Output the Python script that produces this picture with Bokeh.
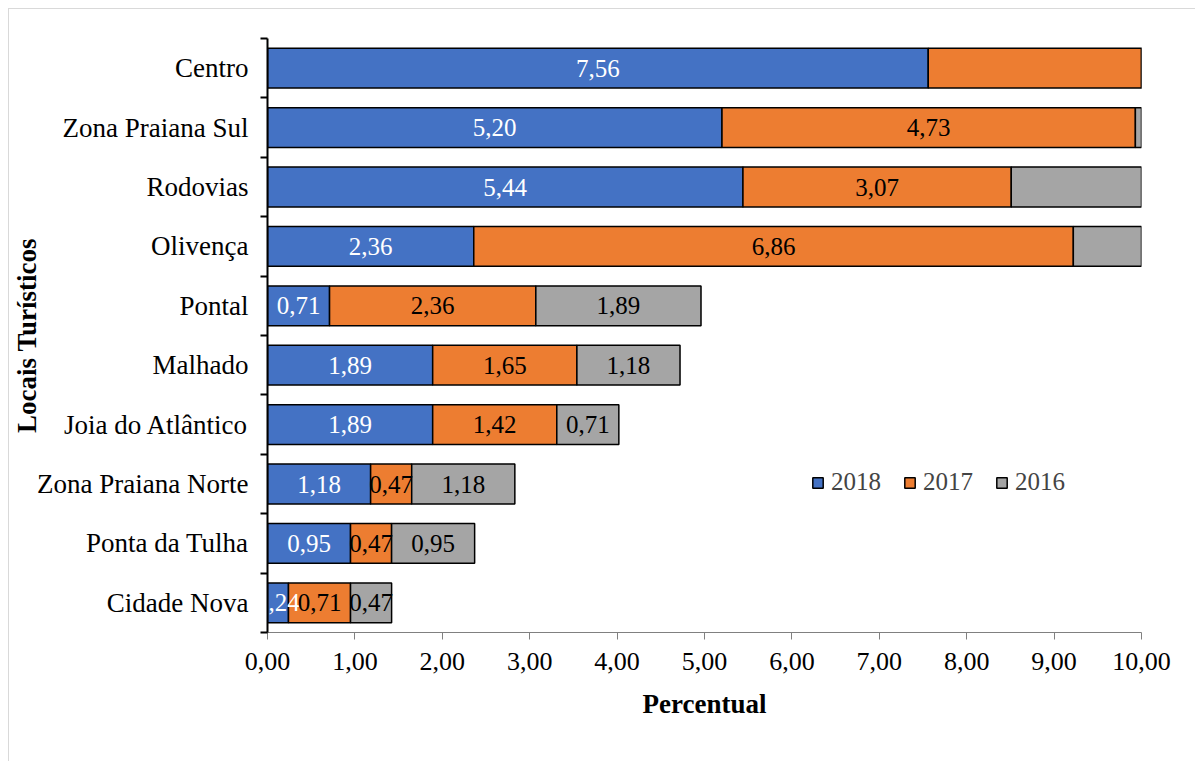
from bokeh.plotting import figure
from bokeh.models import FixedTicker, ColumnDataSource, Legend, LegendItem
from bokeh.core.properties import value
from bokeh.embed import file_html
from bokeh.resources import INLINE

categories = ["Centro", "Zona Praiana Sul", "Rodovias", "Olivença", "Pontal", "Malhado",
              "Joia do Atlântico", "Zona Praiana Norte", "Ponta da Tulha", "Cidade Nova"]
v2018 = [7.56, 5.20, 5.44, 2.36, 0.71, 1.89, 1.89, 1.18, 0.95, 0.24]
v2017 = [6.13, 4.73, 3.07, 6.86, 2.36, 1.65, 1.42, 0.47, 0.47, 0.71]
v2016 = [4.01, 2.83, 3.54, 2.36, 1.89, 1.18, 0.71, 1.18, 0.95, 0.47]
series_names = ["2018", "2017", "2016"]
colors = ["#4472C4", "#ED7D31", "#A5A5A5"]
label_colors = ["white", "black", "black"]
x_ticks = [0, 1, 2, 3, 4, 5, 6, 7, 8, 9, 10]

FONT = "Liberation Serif"
n = len(categories)
ypos = [n - 1 - i + 0.5 for i in range(n)]

p = figure(width=1187, height=753, x_range=(0, 10), y_range=(0, n),
           output_backend="svg", toolbar_location=None,
           min_border_left=257, min_border_right=55, min_border_top=29, min_border_bottom=130)
p.margin = (8, 0, 0, 8)
p.styles = {"border-left": "1px solid #d9d9d9", "border-top": "1px solid #d9d9d9"}
p.outline_line_color = None
p.xgrid.visible = False
p.ygrid.visible = False

series = [v2018, v2017, v2016]
left = [0.0] * n
renderers = []
labels = []
for k, vals in enumerate(series):
    right = [l + v for l, v in zip(left, vals)]
    src = ColumnDataSource(dict(y=ypos, left=left, right=right))
    r = p.hbar(y="y", left="left", right="right", height=0.67, source=src,
               fill_color=colors[k], line_color="black", line_width=1.5)
    renderers.append(r)
    lx, ly, lt = [], [], []
    for i in range(n):
        c = (left[i] + right[i]) / 2
        if c < 10:
            lx.append(c)
            ly.append(ypos[i])
            lt.append(f"{vals[i]:.2f}".replace(".", ","))
    labels.append((lx, ly, lt, label_colors[k]))
    left = right

for lx, ly, lt, col in labels:
    p.text(x=lx, y=ly, text=lt, text_font=value(FONT), text_font_size="25px",
           text_color=col, text_align="center", text_baseline="middle")

# x axis
p.xaxis.ticker = FixedTicker(ticks=x_ticks)
p.xaxis.major_label_overrides = {t: f"{t:.2f}".replace(".", ",") for t in x_ticks}
p.xaxis.major_label_text_font = FONT
p.xaxis.major_label_text_font_size = "26px"
p.xaxis.major_label_text_color = "black"
p.xaxis.axis_line_color = "#808080"
p.xaxis.major_tick_line_color = "#808080"
p.xaxis.major_tick_in = 0
p.xaxis.major_tick_out = 7
p.xaxis.minor_tick_line_color = None
p.xaxis.major_label_standoff = 13
p.xaxis.axis_label = "Percentual"
p.xaxis.axis_label_text_font = FONT
p.xaxis.axis_label_text_font_size = "27px"
p.xaxis.axis_label_text_font_style = "bold"
p.xaxis.axis_label_text_color = "black"
p.xaxis.axis_label_standoff = 16

# y axis
p.yaxis.ticker = FixedTicker(ticks=ypos, minor_ticks=list(range(n + 1)))
p.yaxis.major_label_overrides = {y: c for y, c in zip(ypos, categories)}
p.yaxis.major_label_text_font = FONT
p.yaxis.major_label_text_font_size = "27px"
p.yaxis.major_label_text_color = "black"
p.yaxis.axis_line_color = "black"
p.yaxis.axis_line_width = 2
p.yaxis.major_tick_line_color = None
p.yaxis.minor_tick_line_color = "black"
p.yaxis.minor_tick_line_width = 2
p.yaxis.minor_tick_in = 0
p.yaxis.minor_tick_out = 7
p.yaxis.major_label_standoff = 12
p.yaxis.axis_label = "Locais Turísticos"
p.yaxis.axis_label_text_font = FONT
p.yaxis.axis_label_text_font_size = "27px"
p.yaxis.axis_label_text_font_style = "bold"
p.yaxis.axis_label_text_color = "black"
p.yaxis.axis_label_standoff = -8

legend = Legend(items=[LegendItem(label=s, renderers=[r]) for s, r in zip(series_names, renderers)],
                orientation="horizontal", location=(544, 136),
                label_text_font=FONT, label_text_font_size="25px",
                glyph_width=13, glyph_height=13, label_standoff=7, spacing=22,
                padding=0, margin=0, border_line_color=None, background_fill_alpha=0)
p.add_layout(legend)

open("out.html", "w").write(file_html(p, INLINE))
